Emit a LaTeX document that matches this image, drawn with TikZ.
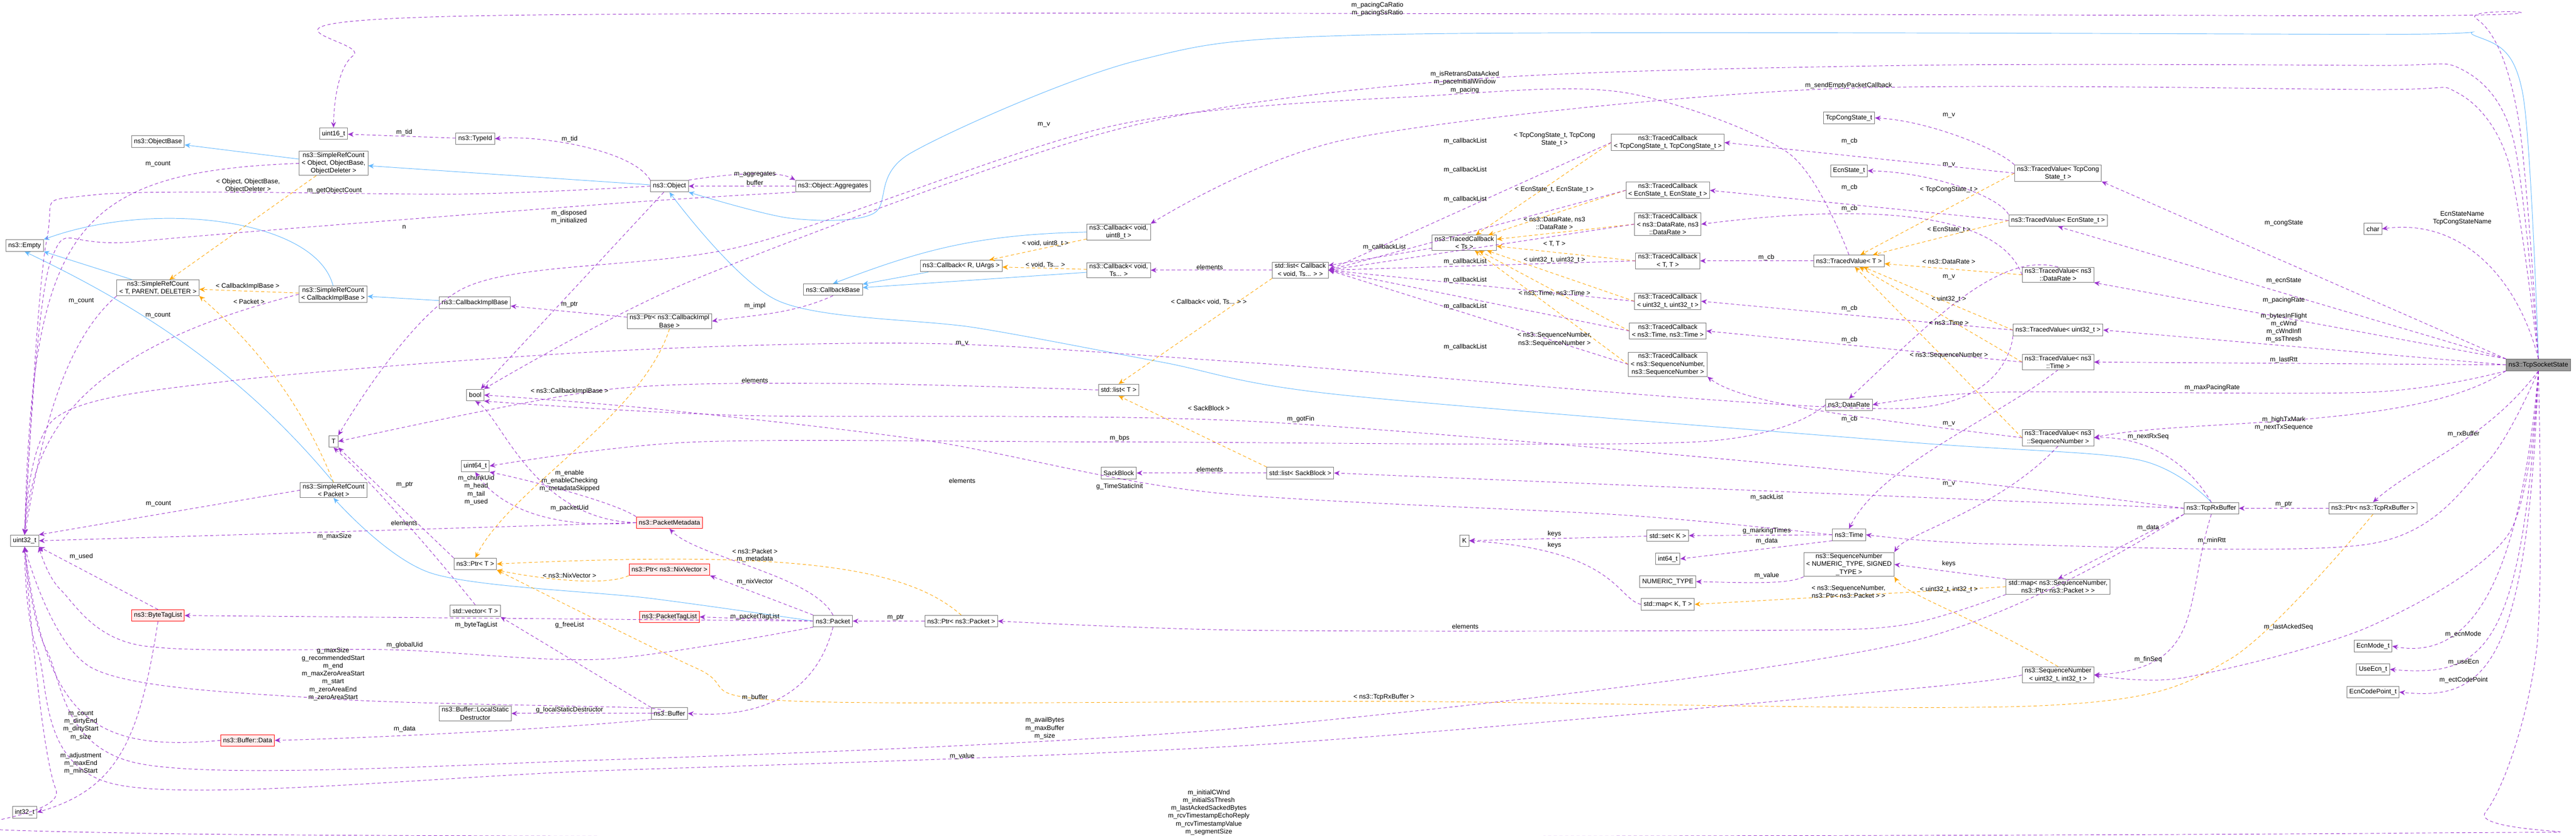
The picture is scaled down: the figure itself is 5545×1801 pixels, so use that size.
\documentclass[tikz,border=0pt]{standalone}
\usepackage{fontspec}
\setmainfont{Liberation Sans}
\usetikzlibrary{arrows.meta}
\newcommand\dfont{\fontsize{8pt}{9.6pt}\selectfont}
\definecolor{mpurple}{HTML}{9A32CD}
\definecolor{mblue}{HTML}{63B8FF}
\definecolor{morange}{HTML}{FFA500}
\tikzset{
 box/.style={draw=black!55, fill=white, font=\dfont, inner xsep=3pt, inner ysep=1.5pt, minimum height=0.5cm, align=center, line width=0.6pt},
 redbox/.style={box, draw=red, fill=red!7},
 mem/.style={draw=mpurple, dash pattern=on 4pt off 3pt, line width=0.6pt, -{Stealth[length=7pt,width=6pt]}},
 inh/.style={draw=mblue, line width=0.6pt, -{Stealth[length=7pt,width=6pt]}},
 tpl/.style={draw=morange, dash pattern=on 4pt off 3pt, line width=0.6pt, -{Stealth[length=7pt,width=6pt]}},
 lbl/.style={font=\dfont, align=center, inner sep=1pt}
}
\begin{document}
\begin{tikzpicture}[x=0.02cm,y=-0.02cm]
\useasboundingbox (0,0) rectangle (5545,1801);
% ---------- nodes ----------
\node[box] (empty) at (53,529) {ns3::Empty};
\node[box] (srcTPD) at (340,620) {ns3::SimpleRefCount\\< T, PARENT, DELETER >};
\node[box] (srcCIB) at (717,634) {ns3::SimpleRefCount\\< CallbackImplBase >};
\node[box] (cib) at (1022,652) {ns3::CallbackImplBase};
\node[box] (boolN) at (1023,851) {bool};
\node[box] (T) at (718,951) {T};
\node[box] (u64) at (1023,1004) {uint64\_t};
\node[box] (srcObj) at (718,352) {ns3::SimpleRefCount\\< Object, ObjectBase,\\ObjectDeleter >};
\node[box] (objBase) at (340,305) {ns3::ObjectBase};
\node[box] (u16) at (718,288) {uint16\_t};
\node[box] (typeid) at (1023,299) {ns3::TypeId};
\node[box] (obj) at (1441,401) {ns3::Object};
\node[box] (aggr) at (1793,401) {ns3::Object::Aggregates};
\node[box] (cbU8) at (2408,500) {ns3::Callback< void,\\uint8\_t >};
\node[box] (cbRU) at (2069,573) {ns3::Callback< R, UArgs >};
\node[box] (cbTs) at (2408,582) {ns3::Callback< void,\\Ts... >};
\node[box] (cbBase) at (1793,624) {ns3::CallbackBase};
\node[box] (ptrCIB) at (1441,692) {ns3::Ptr< ns3::CallbackImpl\\Base >};
\node[box] (listT) at (2408,840) {std::list< T >};
\node[box] (listCb) at (2799,582) {std::list< Callback\\< void, Ts... > >};
\node[box] (tcTs) at (3152,523) {ns3::TracedCallback\\< Ts >};
\node[box] (tcCong) at (3590,307) {ns3::TracedCallback\\< TcpCongState\_t, TcpCongState\_t >};
\node[box] (tcEcn) at (3590,410) {ns3::TracedCallback\\< EcnState\_t, EcnState\_t >};
\node[box] (tcDR) at (3590,483) {ns3::TracedCallback\\< ns3::DataRate, ns3\\::DataRate >};
\node[box] (tcTT) at (3590,562) {ns3::TracedCallback\\< T, T >};
\node[box] (tcU32) at (3590,649) {ns3::TracedCallback\\< uint32\_t, uint32\_t >};
\node[box] (tcTime) at (3590,713) {ns3::TracedCallback\\< ns3::Time, ns3::Time >};
\node[box] (tcSeq) at (3590,785) {ns3::TracedCallback\\< ns3::SequenceNumber,\\ns3::SequenceNumber >};
\node[box] (tvT) at (3980,562) {ns3::TracedValue< T >};
\node[box] (congT) at (3980,254) {TcpCongState\_t};
\node[box] (ecnT) at (3980,368) {EcnState\_t};
\node[box] (dataRate) at (3980,872) {ns3::DataRate};
\node[box] (listSack) at (2799,1019) {std::list< SackBlock >};
\node[box] (timeN) at (3980,1152) {ns3::Time};
\node[box] (setK) at (3590,1154) {std::set< K >};
\node[box] (K) at (3152,1165) {K};
\node[box] (i64) at (3590,1204) {int64\_t};
\node[box] (seqNT) at (3980,1216) {ns3::SequenceNumber\\< NUMERIC\_TYPE, SIGNED\\\_TYPE >};
\node[box] (numT) at (3590,1253) {NUMERIC\_TYPE};
\node[box] (mapKT) at (3590,1302) {std::map< K, T >};
\node[box] (sack) at (2408,1019) {SackBlock};
\node[redbox] (pmeta) at (1441,1126) {ns3::PacketMetadata};
\node[redbox] (ptrNix) at (1441,1227) {ns3::Ptr< ns3::NixVector >};
\node[redbox] (ptagl) at (1441,1329) {ns3::PacketTagList};
\node[box] (packet) at (1793,1338) {ns3::Packet};
\node[box] (ptrPkt) at (2069,1338) {ns3::Ptr< ns3::Packet >};
\node[box] (buffer) at (1441,1537) {ns3::Buffer};
\node[box] (srcPkt) at (718,1056) {ns3::SimpleRefCount\\< Packet >};
\node[box] (u32) at (53,1165) {uint32\_t};
\node[box] (ptrT) at (1023,1215) {ns3::Ptr< T >};
\node[redbox] (btl) at (340,1326) {ns3::ByteTagList};
\node[box] (vecT) at (1023,1316) {std::vector< T >};
\node[box] (lsd) at (1023,1537) {ns3::Buffer::LocalStatic\\Destructor};
\node[redbox] (bdata) at (533,1595) {ns3::Buffer::Data};
\node[box] (i32) at (53,1750) {int32\_t};
\node[box] (tvCong) at (4430,373) {ns3::TracedValue< TcpCong\\State\_t >};
\node[box] (tvEcn) at (4430,475) {ns3::TracedValue< EcnState\_t >};
\node[box] (tvDR) at (4430,592) {ns3::TracedValue< ns3\\::DataRate >};
\node[box] (tvU32) at (4430,711) {ns3::TracedValue< uint32\_t >};
\node[box] (tvTime) at (4430,780) {ns3::TracedValue< ns3\\::Time >};
\node[box] (charN) at (5108,493) {char};
\node[box, fill=black!40, draw=black!60] (tss) at (5464,786) {ns3::TcpSocketState};
\node[box] (tvSeq) at (4430,943) {ns3::TracedValue< ns3\\::SequenceNumber >};
\node[box] (rxb) at (4760,1095) {ns3::TcpRxBuffer};
\node[box] (ptrRx) at (5108,1095) {ns3::Ptr< ns3::TcpRxBuffer >};
\node[box] (mapSeq) at (4430,1264) {std::map< ns3::SequenceNumber,\\ns3::Ptr< ns3::Packet > >};
\node[box] (seqU32) at (4430,1454) {ns3::SequenceNumber\\< uint32\_t, int32\_t >};
\node[box] (ecnMode) at (5108,1392) {EcnMode\_t};
\node[box] (useEcn) at (5108,1442) {UseEcn\_t};
\node[box] (ecnCP) at (5108,1491) {EcnCodePoint\_t};
% ---------- inheritance ----------
\draw[inh] (srcObj) -- (objBase);
\draw[inh] (obj) -- (srcObj);
\draw[inh] (srcTPD) -- (empty);
\draw[inh] (srcCIB.north) .. controls (680,470) and (330,430) .. (empty.north east);
\draw[inh] (srcPkt.north) .. controls (520,800) and (300,660) .. (empty.south);
\draw[inh] (cib) -- (srcCIB);
\draw[inh] (cbRU) -- (cbBase);
\draw[inh] (cbU8.west) .. controls (2100,505) and (1980,540) .. (cbBase.north);
\draw[inh] (cbTs) -- (cbBase);
\draw[inh] plot[smooth] coordinates {(packet.west) (1400,1289) (929,1235) (srcPkt.south)};
\draw[inh] plot[smooth,tension=0.5] coordinates {(tss.north) (5430,200) (5330,78) (5100,74) (3000,74) (2450,130) (1960,330) (1880,460) (1700,470) (obj.south east)};
\draw[inh] plot[smooth,tension=0.5] coordinates {(rxb.north) (4600,990) (4100,952) (2880,850) (2500,780) (2100,706) (1675,648) (obj.south)};
% ---------- templates ----------
\draw[tpl] (srcObj) -- (srcTPD);
\draw[tpl] (srcCIB) -- (srcTPD);
\draw[tpl] (srcPkt.north) .. controls (630,820) and (500,700) .. (srcTPD.south east);
\draw[tpl] (ptrCIB.south) .. controls (1380,900) and (1100,1050) .. (ptrT.north);
\draw[tpl] (ptrNix.south west) .. controls (1300,1265) and (1150,1245) .. (ptrT.south east);
\draw[tpl] (ptrPkt.north) .. controls (1950,1220) and (1700,1185) .. (ptrT.east);
\draw[tpl] plot[smooth,tension=0.5] coordinates {(ptrRx.south) (4800,1420) (4400,1520) (3000,1511) (1700,1510) (1500,1440) (ptrT.south east)};
\draw[tpl] (cbU8) -- (cbRU);
\draw[tpl] (cbTs) -- (cbRU);
\draw[tpl] (listCb.south west) -- (listT.north);
\draw[tpl] (listSack.north west) -- (listT.south);
\foreach \n in {tcCong,tcEcn,tcDR,tcTT,tcU32,tcTime,tcSeq} {\draw[tpl] (\n.west) -- (tcTs);}
\foreach \n in {tvCong,tvEcn,tvDR,tvU32,tvTime,tvSeq} {\draw[tpl] (\n.west) -- (tvT);}
\draw[tpl] (seqU32.north) .. controls (4250,1330) and (4100,1280) .. (seqNT.south east);
\draw[tpl] (mapSeq.west) -- (mapKT.east);
% ---------- members ----------
\draw[mem] (srcObj.west) .. controls (150,370) and (70,500) .. (u32.north);
\draw[mem] plot[smooth,tension=0.5] coordinates {(obj.west) (1000,418) (200,420) (100,520) (u32.north)};
\draw[mem] (obj) -- (boolN);
\draw[mem] (obj.north west) .. controls (1360,320) and (1150,290) .. (typeid.east);
\draw[mem] (typeid) -- (u16);
\draw[mem] (obj.north east) .. controls (1600,370) and (1680,370) .. (aggr.north west);
\draw[mem] (aggr) -- (obj);
\draw[mem] plot[smooth,tension=0.5] coordinates {(aggr.south west) (1300,440) (300,520) (110,560) (u32.north)};
\draw[mem] (srcTPD.south west) .. controls (120,750) and (80,1000) .. (u32.north);
\draw[mem] (srcCIB.west) .. controls (150,760) and (70,950) .. (u32.north);
\draw[mem] (srcPkt.west) -- (u32.north east);
\draw[mem] (ptrCIB) -- (cib);
\draw[mem] (cbBase.south) .. controls (1700,680) and (1600,680) .. (ptrCIB.east);
\draw[mem] (ptrT.north west) -- (T.south east);
\draw[mem] (vecT.north) .. controls (900,1150) and (780,1020) .. (T.south);
\draw[mem] plot[smooth,tension=0.5] coordinates {(listT.west) (1800,826) (1300,840) (T.east)};
\draw[mem] (pmeta.west) .. controls (1200,1140) and (1080,1100) .. (u64.south);
\draw[mem] (pmeta.north west) .. controls (1320,1080) and (1120,1030) .. (u64.south east);
\draw[mem] (pmeta.west) .. controls (1150,1120) and (1080,900) .. (boolN.south);
\draw[mem] (pmeta.west) -- (u32.east);
\draw[mem] (packet.north) .. controls (1750,1240) and (1500,1200) .. (pmeta.south);
\draw[mem] (packet.north west) -- (ptrNix.south east);
\draw[mem] (packet.west) -- (ptagl.east);
\draw[mem] (packet.west) -- (btl.east);
\draw[mem] plot[smooth,tension=0.5] coordinates {(packet.south west) (1300,1420) (850,1400) (300,1390) (130,1270) (u32.south east)};
\draw[mem] (packet.south) .. controls (1750,1520) and (1600,1545) .. (buffer.east);
\draw[mem] (ptrPkt) -- (packet);
\draw[mem] (btl.north) -- (u32.south east);
\draw[mem] (btl.south) .. controls (300,1600) and (250,1700) .. (i32.east);
\draw[mem] plot[smooth,tension=0.5] coordinates {(buffer.west) (1380,1525) (700,1505) (200,1440) (u32.south)};
\draw[mem] (buffer) -- (lsd);
\draw[mem] (buffer.south west) .. controls (1200,1570) and (800,1590) .. (bdata.east);
\draw[mem] (buffer.north west) -- (vecT.south east);
\draw[mem] (bdata.west) .. controls (200,1620) and (100,1550) .. (u32.south);
\draw[mem] plot[smooth,tension=0.5] coordinates {(timeN.west) (3500,1110) (2600,1060) (2000,950) (1400,880) (boolN.east)};
\draw[mem] plot[smooth,tension=0.5] coordinates {(rxb.west) (4100,1025) (2700,908) (1600,895) (boolN.south east)};
\draw[mem] plot[smooth,tension=0.5] coordinates {(dataRate.west) (3650,952) (2400,952) (1500,952) (u64.east)};
\draw[mem] (rxb.west) -- (listSack.east);
\draw[mem] (rxb.north) .. controls (4700,980) and (4600,940) .. (tvSeq.east);
\draw[mem] (rxb.south west) -- (mapSeq.north);
\draw[mem] (rxb.south) .. controls (4700,1300) and (4750,1440) .. (seqU32.east);
\draw[mem] plot[smooth,tension=0.5] coordinates {(rxb.south west) (4100,1385) (2700,1566) (1300,1637) (300,1645) (100,1400) (u32.south)};
\draw[mem] plot[smooth,tension=0.5] coordinates {(seqU32.west) (4100,1485) (2700,1605) (1300,1660) (250,1690) (80,1400) (u32.south)};
\draw[mem] (ptrRx) -- (rxb);
\draw[mem] plot[smooth,tension=0.5] coordinates {(mapSeq.south west) (4100,1346) (3800,1358) (2700,1358) (ptrPkt.east)};
\draw[mem] (mapSeq.north west) -- (seqNT.east);
\draw[mem] (mapKT.west) .. controls (3480,1290) and (3480,1185) .. (K.east);
\draw[mem] (setK) -- (K);
\draw[mem] (timeN) -- (setK);
\draw[mem] (timeN.south west) -- (i64.east);
\draw[mem] (seqNT.south west) .. controls (3850,1260) and (3750,1255) .. (numT.east);
\draw[mem] plot[smooth,tension=0.5] coordinates {(tvT.north) (3850,330) (3500,200) (3100,205) (2400,270) (1600,530) (1000,620) (T.north east)};
\draw[mem] (tvCong.north west) .. controls (4300,320) and (4150,260) .. (congT.east);
\draw[mem] (tvEcn.north west) .. controls (4300,420) and (4150,370) .. (ecnT.east);
\draw[mem] (tvDR.north) .. controls (4300,540) and (4150,700) .. (dataRate.north);
\draw[mem] (tvTime.south) .. controls (4300,900) and (4050,1000) .. (timeN.north);
\draw[mem] (tvSeq.south) .. controls (4300,1100) and (4100,1150) .. (seqNT.north east);
\draw[mem] plot[smooth,tension=0.5] coordinates {(tvU32.south west) (4100,880) (2700,782) (2000,740) (1300,757) (500,820) (120,900) (u32.north)};
\draw[mem] (tvCong.west) -- (tcCong.east);
\draw[mem] (tvEcn.west) -- (tcEcn.east);
\draw[mem] (tvDR.west) .. controls (4300,450) and (4000,440) .. (tcDR.east);
\draw[mem] (tvT) -- (tcTT);
\draw[mem] (tvU32.west) -- (tcU32.east);
\draw[mem] (tvTime.west) -- (tcTime.east);
\draw[mem] (tvSeq.west) .. controls (4000,900) and (3750,870) .. (tcSeq.south east);
\foreach \n in {tcCong,tcEcn,tcDR,tcTT,tcU32,tcTime,tcSeq} {\draw[mem] (\n.west) -- (listCb.east);}
\draw[mem] (tcTs) -- (listCb);
\draw[mem] (listCb) -- (cbTs);
\draw[mem] (listSack) -- (sack);
% TcpSocketState members
\draw[mem] plot[smooth,tension=0.5] coordinates {(tss.north) (5420,250) (5330,40) (5100,34) (1030,34) (760,120) (u16.north)};
\draw[mem] plot[smooth,tension=0.5] coordinates {(tss.north) (5400,350) (5290,200) (5100,193) (3900,193) (2900,300) (cbU8.north east)};
\draw[mem] plot[smooth,tension=0.5] coordinates {(tss.north) (5410,300) (5300,150) (5100,141) (4100,141) (3150,172) (2400,280) (1500,600) (boolN.north east)};
\draw[mem] (tss.north west) -- (tvCong.south east);
\draw[mem] (tss.north west) -- (tvEcn.south);
\draw[mem] (tss.north west) -- (tvDR.south east);
\draw[mem] (tss.west) -- (tvU32.east);
\draw[mem] (tss.west) -- (tvTime.east);
\draw[mem] plot[smooth,tension=0.5] coordinates {(tss.south west) (5100,845) (4300,845) (dataRate.east)};
\draw[mem] (tss.south west) .. controls (5200,930) and (4700,900) .. (tvSeq.east);
\draw[mem] (tss.south) .. controls (5350,950) and (5200,1000) .. (ptrRx.north);
\draw[mem] plot[smooth,tension=0.5] coordinates {(tss.south) (5350,1000) (5100,1172) (4300,1172) (timeN.east)};
\draw[mem] plot[smooth,tension=0.5] coordinates {(tss.south) (5400,1150) (5100,1350) (4700,1460) (seqU32.east)};
\draw[mem] (tss.south) .. controls (5420,1300) and (5300,1420) .. (ecnMode.east);
\draw[mem] (tss.south) .. controls (5430,1400) and (5350,1460) .. (useEcn.east);
\draw[mem] (tss.south) .. controls (5440,1440) and (5350,1510) .. (ecnCP.east);
\draw[mem] (tss.north) .. controls (5420,600) and (5300,470) .. (charN.east);
\draw[mem] plot[smooth,tension=0.5] coordinates {(tss.south) (5460,1400) (5350,1750) (5150,1795) (300,1795) (120,1700) (u32.south)};
% ---------- labels ----------
\node[lbl] at (2965,20) {m\_pacingCaRatio\\m\_pacingSsRatio};
\node[lbl] at (340,353) {m\_count};
\node[lbl] at (534,400) {< Object, ObjectBase,\\ObjectDeleter >};
\node[lbl] at (720,411) {m\_getObjectCount};
\node[lbl] at (1225,468) {m\_disposed\\m\_initialized};
\node[lbl] at (870,489) {n};
\node[lbl] at (533,617) {< CallbackImplBase >};
\node[lbl] at (175,648) {m\_count};
\node[lbl] at (536,650) {< Packet >};
\node[lbl] at (340,679) {m\_count};
\node[lbl] at (1226,656) {m\_ptr};
\node[lbl] at (1226,843) {< ns3::CallbackImplBase >};
\node[lbl] at (871,1044) {m\_ptr};
\node[lbl] at (1025,1056) {m\_chunkUid\\m\_head\\m\_tail\\m\_used};
\node[lbl] at (1226,1036) {m\_enable\\m\_enableChecking\\m\_metadataSkipped};
\node[lbl] at (1226,1095) {m\_packetUid};
\node[lbl] at (870,1127) {elements};
\node[lbl] at (341,1085) {m\_count};
\node[lbl] at (720,1156) {m\_maxSize};
\node[lbl] at (1226,1240) {< ns3::NixVector >};
\node[lbl] at (175,1199) {m\_used};
\node[lbl] at (1025,1347) {m\_byteTagList};
\node[lbl] at (1226,1347) {g\_freeList};
\node[lbl] at (871,1390) {m\_globalUid};
\node[lbl] at (717,1452) {g\_maxSize\\g\_recommendedStart\\m\_end\\m\_maxZeroAreaStart\\m\_start\\m\_zeroAreaEnd\\m\_zeroAreaStart};
\node[lbl] at (1226,1529) {g\_localStaticDestructor};
\node[lbl] at (871,1571) {m\_data};
\node[lbl] at (174,1563) {m\_count\\m\_dirtyEnd\\m\_dirtyStart\\m\_size};
\node[lbl] at (174,1645) {m\_adjustment\\m\_maxEnd\\m\_minStart};
\node[lbl] at (2071,1036) {elements};
\node[lbl] at (2604,1011) {elements};
\node[lbl] at (2410,1048) {g\_TimeStaticInit};
\node[lbl] at (1625,1188) {< ns3::Packet >};
\node[lbl] at (1625,1205) {m\_metadata};
\node[lbl] at (1625,1253) {m\_nixVector};
\node[lbl] at (1625,1329) {m\_packetTagList};
\node[lbl] at (1928,1331) {m\_ptr};
\node[lbl] at (1625,1503) {m\_buffer};
\node[lbl] at (2249,1569) {m\_availBytes\\m\_maxBuffer\\m\_size};
\node[lbl] at (2071,1629) {m\_value};
\node[lbl] at (2602,1750) {m\_initialCWnd\\m\_initialSsThresh\\m\_lastAckedSackedBytes\\m\_rcvTimestampEchoReply\\m\_rcvTimestampValue\\m\_segmentSize};
\node[lbl] at (1625,376) {m\_aggregates};
\node[lbl] at (1625,394) {buffer};
\node[lbl] at (2250,525) {< void, uint8\_t >};
\node[lbl] at (2250,571) {< void, Ts... >};
\node[lbl] at (2604,575) {elements};
\node[lbl] at (2602,651) {< Callback< void, Ts... > >};
\node[lbl] at (1625,659) {m\_impl};
\node[lbl] at (2071,740) {m\_v};
\node[lbl] at (1625,819) {elements};
\node[lbl] at (2602,879) {< SackBlock >};
\node[lbl] at (2410,944) {m\_bps};
\node[lbl] at (870,285) {m\_tid};
\node[lbl] at (1226,300) {m\_tid};
\node[lbl] at (2247,269) {m\_v};
\node[lbl] at (3153,177) {m\_isRetransDataAcked\\m\_paceInitialWindow\\m\_pacing};
\node[lbl] at (3979,184) {m\_sendEmptyPacketCallback};
\foreach \yy in {304,366,429,564,603,660,748} {\node[lbl] at (3154,\yy) {m\_callbackList};}
\node[lbl] at (2980,533) {m\_callbackList};
\node[lbl] at (3346,300) {< TcpCongState\_t, TcpCong\\State\_t >};
\node[lbl] at (3346,408) {< EcnState\_t, EcnState\_t >};
\node[lbl] at (3346,481) {< ns3::DataRate, ns3\\::DataRate >};
\node[lbl] at (3346,526) {< T, T >};
\node[lbl] at (3346,560) {< uint32\_t, uint32\_t >};
\node[lbl] at (3346,632) {< ns3::Time, ns3::Time >};
\node[lbl] at (3346,731) {< ns3::SequenceNumber,\\ns3::SequenceNumber >};
\foreach \yy in {304,404,449,664,732,903} {\node[lbl] at (3981,\yy) {m\_cb};}
\node[lbl] at (3802,555) {m\_cb};
\node[lbl] at (2800,903) {m\_gotFin};
\node[lbl] at (3803,1072) {m\_sackList};
\node[lbl] at (3346,1150) {keys};
\node[lbl] at (3346,1175) {keys};
\node[lbl] at (3803,1144) {g\_markingTimes};
\node[lbl] at (3803,1166) {m\_data};
\node[lbl] at (3803,1240) {m\_value};
\node[lbl] at (3979,1275) {< ns3::SequenceNumber,\\ns3::Ptr< ns3::Packet > >};
\node[lbl] at (3154,1350) {elements};
\node[lbl] at (2979,1502) {< ns3::TcpRxBuffer >};
\node[lbl] at (4195,249) {m\_v};
\node[lbl] at (4195,355) {m\_v};
\node[lbl] at (4195,408) {< TcpCongState\_t >};
\node[lbl] at (4195,495) {< EcnState\_t >};
\node[lbl] at (4195,564) {< ns3::DataRate >};
\node[lbl] at (4195,597) {m\_v};
\node[lbl] at (4195,644) {< uint32\_t >};
\node[lbl] at (4195,695) {< ns3::Time >};
\node[lbl] at (4195,766) {< ns3::SequenceNumber >};
\node[lbl] at (4195,913) {m\_v};
\node[lbl] at (4624,941) {m\_nextRxSeq};
\node[lbl] at (4195,1043) {m\_v};
\node[lbl] at (4916,1087) {m\_ptr};
\node[lbl] at (4624,1137) {m\_data};
\node[lbl] at (4195,1215) {keys};
\node[lbl] at (4195,1270) {< uint32\_t, int32\_t >};
\node[lbl] at (4624,1421) {m\_finSeq};
\node[lbl] at (4916,481) {m\_congState};
\node[lbl] at (5300,470) {EcnStateName\\TcpCongStateName};
\node[lbl] at (4916,605) {m\_ecnState};
\node[lbl] at (4916,647) {m\_pacingRate};
\node[lbl] at (4916,706) {m\_bytesInFlight\\m\_cWnd\\m\_cWndInfl\\m\_ssThresh};
\node[lbl] at (4916,775) {m\_lastRtt};
\node[lbl] at (4762,835) {m\_maxPacingRate};
\node[lbl] at (4916,912) {m\_highTxMark\\m\_nextTxSequence};
\node[lbl] at (5303,935) {m\_rxBuffer};
\node[lbl] at (4761,1165) {m\_minRtt};
\node[lbl] at (4926,1351) {m\_lastAckedSeq};
\node[lbl] at (5302,1367) {m\_ecnMode};
\node[lbl] at (5303,1427) {m\_useEcn};
\node[lbl] at (5303,1465) {m\_ectCodePoint};
\end{tikzpicture}
\end{document}
